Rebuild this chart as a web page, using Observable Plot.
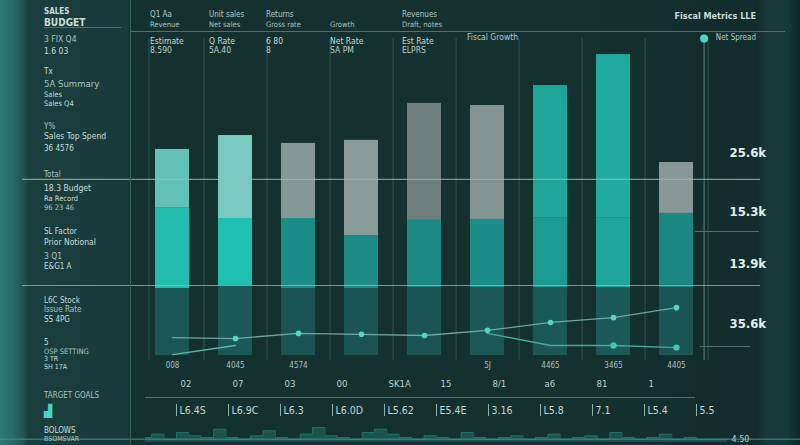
<!DOCTYPE html>
<html>
<head>
<meta charset="utf-8">
<script src="https://cdn.jsdelivr.net/npm/d3@7"></script>
<script src="https://cdn.jsdelivr.net/npm/@observablehq/plot@0.6"></script>
<style>
  html, body { margin: 0; padding: 0; width: 800px; height: 445px; overflow: hidden; background: #14302f; }
  #wrap {
    position: relative; width: 800px; height: 445px; overflow: hidden;
    background: linear-gradient(90deg, #2e7872 0px, #2a6d68 12px, #21524f 24px, #1a3e3e 28px, #193a3a 128px, #15312f 131px, #14302f 600px, #132c2d 756px, #183a3a 768px, #17393a 788px, #0f2526 800px);
    font-family: "DejaVu Sans Condensed", "Liberation Sans Narrow", "DejaVu Sans", sans-serif;
  }
  #wrap > svg, .layer { position: absolute; left: 0; top: 0; }
  .t { position: absolute; white-space: nowrap; color: #c9dcd8; line-height: 1; }
  .hl { position: absolute; height: 0; border-top: 1px solid #4d716e; }
  .vl { position: absolute; width: 0; border-left: 1px solid #3b605e; }
</style>
</head>
<body>
<div id="wrap"></div>
<script>
// ---------------- data ----------------
const categories = ["Jan", "Feb", "Mar", "Apr", "May", "Jun", "Jul", "Aug", "Sep"];
const baseSeries = [22.1, 23.1, 22.1, 22.1, 22.4, 22.4, 22.4, 22.4, 22.4];
const midSeries  = [26.7, 22.1, 23.1, 17.5, 22.2, 22.5, 23.1, 23.1, 24.5];
const topSeries  = [19.2, 27.4, 24.8, 31.4, 38.6, 37.6, 43.6, 53.8, 16.8];
const trendSeries      = [5.9, 5.6, 7.3, 7.0, 6.6, 8.3, 10.9, 12.5, 15.8];
const lowerTrendSeries = [null, null, null, null, null, 7.3, 3.3, 3.3, 2.6];
const startSeries      = [0.3, 3.3, null, null, null, null, null, null, null];
const gridValues = [58.1, 23.1];
const rightTickValues = [67, 47.5, 30.4, 10.6];
const rightTickLabels = ["25.6k", "15.3k", "13.9k", "35.6k"];
const countLabels = ["008", "4045", "4574", "", "", "5J", "4465", "3465", "4405"];
const stepLabels  = ["02", "07", "03", "00", "SK1A", "15", "8/1", "a6", "81", "1"];
const rangeLabels = ["L6.4S", "L6.9C", "L6.3", "L6.0D", "L5.62", "E5.4E", "3.16", "L5.8", "7.1", "L5.4", "5.5"];
const waveValues = [3, 5, 2, 6, 4, 3, 8, 3, 2, 4, 7, 3, 2, 5, 9, 4, 3, 2, 6, 8, 5, 3, 2, 4, 3, 2, 6, 3, 2, 3, 4, 2, 3, 5, 2, 3, 4, 2, 6, 3, 2, 3, 5, 2, 3, 2, 2, 2];
const waveEndLabel = "4.50";

const sidebarLines = ["SALES", "BUDGET", "3 FIX Q4", "1.6  03", "Tx", "5A  Summary", "Sales", "Sales  Q4", "Y%", "Sales Top Spend", "36  4576",
  "Total", "18.3  Budget", "Ra  Record", "96  23  46", "SL  Factor", "Prior Notional", "3  Q1", "E&G1  A",
  "L6C  Stock", "Issue Rate", "SS  4PG", "5", "OSP SETTING", "3  TR", "SH  17A", "TARGET GOALS", "▟", "BOLOWS", "BSOMSVAR"];
const headerLines = [
  ["Q1  Aa", "Revenue"], ["Unit sales", "Net sales"], ["Returns", "Gross rate"], ["", "Growth"], ["Revenues", "Draft, notes"]
];
const headerSubLines = [
  ["Estimate", "8.590"], ["Q Rate", "5A.40"], ["6  80", "8"], ["Net Rate", "SA PM"], ["Est Rate", "ELPRS"]
];
const headerRight = "Fiscal Metrics LLE";
const subRightA = "Fiscal Growth";
const subRightB = "Net Spread";

// ---------------- styles (not data) ----------------
const FONT = '"DejaVu Sans Condensed", "Liberation Sans Narrow", "DejaVu Sans", sans-serif';
const palette = {
  base: ["#1a5654", "#1b5957", "#1a5452", "#1a5553", "#1a5553", "#1b5755", "#1a5856", "#1b5a57", "#1a5553"],
  mid:  ["#23bcad", "#1fc0b1", "#1c8c86", "#1e8b85", "#1b8982", "#1c8d86", "#1b9a90", "#1fa69b", "#1c8781"],
  top:  ["#62c0b7", "#78c8bf", "#849896", "#8a9c99", "#6e7e7c", "#829391", "#1fa598", "#21aa9e", "#899896"]
};
const half = 31.6;

// ---------------- main chart ----------------
const segments = [["base", baseSeries], ["mid", midSeries], ["top", topSeries]];
const barRows = segments.flatMap(([segment, vals]) =>
  vals.map((value, index) => ({category: categories[index], segment, value, index})));
const seriesRows = s => s.map((v, i) => ({category: categories[i], value: v})).filter(d => d.value != null);
const trendRows = seriesRows(trendSeries);
const lowerRows = seriesRows(lowerTrendSeries);
const startRows = seriesRows(startSeries);
const countRows = countLabels.map((label, i) => ({category: categories[i], label}));

const chart = Plot.plot({
  width: 800, height: 445,
  marginLeft: 22, marginRight: 40, marginTop: 38, marginBottom: 85,
  style: {background: "transparent", fontFamily: FONT, color: "#cfe0dc", overflow: "visible"},
  x: {type: "band", domain: categories, range: [139.4, 708.6], paddingInner: 0.4625, paddingOuter: 0.23125, axis: null},
  y: {domain: [0, 100], range: [355, 52], axis: null},
  color: {type: "identity"},
  marks: [
    Plot.ruleX(categories, {x: d => d, dx: half, stroke: "#2f5250", strokeWidth: 1}),
    Plot.ruleX(categories.slice(0, 1), {x: d => d, dx: -half + 8, stroke: "#2f5250", strokeWidth: 1}),
    Plot.ruleX(categories.slice(-1), {x: d => d, dx: half - 4, stroke: "#4f7572", strokeWidth: 1.2}),
    Plot.barY(barRows, {x: "category", y: "value", fill: d => palette[d.segment][d.index]}),
    Plot.ruleY(gridValues, {stroke: "#a2b8b4", strokeOpacity: 0.75, strokeWidth: 1.2}),
    Plot.line(startRows, {x: "category", y: "value", stroke: "#5cb8ad", strokeWidth: 1.3}),
    Plot.line(trendRows, {x: "category", y: "value", stroke: "#7fb9b1", strokeOpacity: 0.85, strokeWidth: 1.3}),
    Plot.line(lowerRows, {x: "category", y: "value", stroke: "#49a89c", strokeWidth: 1.4}),
    Plot.dot(trendRows.slice(1), {x: "category", y: "value", r: 2.8, fill: "#52d6c6"}),
    Plot.dot(lowerRows.slice(2), {x: "category", y: "value", r: 3.2, fill: "#3cc9b9"}),
    Plot.dot(categories.slice(-1), {x: d => d, dx: half - 4, frameAnchor: "top", r: 4, fill: "#4fd8c8"}),
    Plot.text(countRows, {x: "category", y: () => 0, text: "label", dy: 10, fontSize: 8, fill: "#a7c2bd"}),
    Plot.axisY({anchor: "right", ticks: rightTickValues, tickSize: 0, label: null,
      tickFormat: d => rightTickLabels[rightTickValues.indexOf(d)],
      dx: -40, fontSize: 13, fontWeight: "bold", fill: "#e4eeeb"})
  ]
});
const wrap = document.getElementById("wrap");
wrap.appendChild(chart);

// ---------------- bottom label strip ----------------
const stripY = {type: "band", domain: ["steps", "ranges"], range: [0, 46], paddingInner: 0.55, paddingOuter: 0.1};
const stepRows = stepLabels.map((label, i) => ({slot: i, row: "steps", label}));
const rangeRows = rangeLabels.map((label, i) => ({slot: i, row: "ranges", label}));
const strip = Plot.plot({
  width: 800, height: 46, margin: 0,
  style: {background: "transparent", fontFamily: FONT, overflow: "visible"},
  x: {type: "point", domain: d3.range(rangeLabels.length), range: [150, 725], axis: null},
  y: {...stripY, axis: null},
  marks: [
    Plot.text(stepRows, {x: "slot", y: "row", text: "label", textAnchor: "start", dx: 2, fontSize: 9.5, fill: "#b9d0cc"}),
    Plot.tickX(rangeRows, {x: "slot", y: "row", stroke: "#8fb0ab", strokeWidth: 1, dx: -2}),
    Plot.text(rangeRows, {x: "slot", y: "row", text: "label", textAnchor: "start", dx: 1, fontSize: 10.5, fill: "#c3d7d3"})
  ]
});
strip.classList.add("layer");
{
  const b = Plot.scale({y: stripY});
  strip.style.top = (383 - (b.apply("steps") + b.bandwidth / 2)) + "px";
}
wrap.appendChild(strip);

// ---------------- waveform strip ----------------
const waveRows = waveValues.map((v, i) => ({i, v}));
const wave = Plot.plot({
  width: 800, height: 24, margin: 0,
  style: {background: "transparent", fontFamily: FONT, overflow: "visible"},
  x: {domain: [0, waveValues.length - 1], range: [145, 727], axis: null},
  y: {domain: [0, 12], range: [20, 0], axis: null},
  marks: [
    Plot.areaY(waveRows, {x: "i", y: "v", fill: "#1f6b65", fillOpacity: 0.6, curve: "step"}),
    Plot.lineY(waveRows, {x: "i", y: "v", stroke: "#2f9b8f", strokeOpacity: 0.55, strokeWidth: 0.8, curve: "step"}),
    Plot.ruleY([2], {stroke: "#3c9990", strokeWidth: 1}),
    Plot.text([waveEndLabel], {x: () => waveValues.length - 1, y: () => 2, text: d => d, textAnchor: "start", dx: 4, fontSize: 9, fill: "#b9d0cc"})
  ]
});
wave.style.top = "422px";
wave.classList.add("layer");
wrap.appendChild(wave);

// ---------------- sidebar / header overlays ----------------
function addText(text, left, top, size, opts = {}) {
  const d = document.createElement("div");
  d.className = "t";
  d.textContent = text;
  d.style.left = left + "px";
  d.style.top = (top - size * 0.55) + "px";
  d.style.fontSize = size + "px";
  if (opts.weight) d.style.fontWeight = opts.weight;
  if (opts.color) d.style.color = opts.color;
  if (opts.anchor === "end") { d.style.left = "auto"; d.style.right = (800 - left) + "px"; }
  wrap.appendChild(d);
}
function addLine(cls, left, top, len) {
  const d = document.createElement("div");
  d.className = cls;
  d.style.left = left + "px";
  d.style.top = top + "px";
  if (cls === "hl") d.style.width = len + "px"; else d.style.height = len + "px";
  wrap.appendChild(d);
}

const sidebarTops  = [12, 23, 40, 52, 72, 84, 95, 104, 127, 137, 149, 175, 189, 199, 208, 232, 243, 257, 267, 301, 310, 320, 343, 352, 360, 368, 396, 412, 431, 440];
const sidebarSizes = [8, 10, 8.5, 8.5, 8, 9.5, 7.5, 7.5, 8, 8.5, 8, 8, 8.5, 7.5, 7.5, 8, 8.5, 8.5, 8, 8, 8, 8, 8, 7.5, 7, 7, 8, 12, 8, 7];
sidebarLines.forEach((s, i) => addText(s, 44, sidebarTops[i], sidebarSizes[i], {
  weight: (i === 0 || i === 1) ? "bold" : null,
  color: i === 27 ? "#47d3c3" : (i % 3 === 2 ? "#aac4bf" : "#c9dcd8")
}));

const headerLefts = [150, 209, 266, 330, 402];
headerLines.forEach(([a, b], i) => {
  if (a) addText(a, headerLefts[i], 15, 8, {color: "#b3cbc6"});
  addText(b, headerLefts[i], 25, 7.5, {color: "#a7c2bd"});
});
headerSubLines.forEach(([a, b], i) => {
  addText(a, headerLefts[i], 42, 8.5, {color: "#c5d9d5"});
  addText(b, headerLefts[i], 51, 8.5, {color: "#b9d0cc"});
});
addText(headerRight, 756, 17, 9, {anchor: "end", color: "#c9dcd8", weight: "bold"});
addText(subRightA, 467, 38, 8.5, {color: "#b3cbc6"});
addText(subRightB, 756, 38, 8, {anchor: "end", color: "#b3cbc6"});

addLine("hl", 130, 31, 655);
addLine("hl", 44, 27, 77);
addLine("hl", 145, 397, 550);
addLine("hl", 695, 231, 64);
addLine("hl", 700, 346, 50);
addLine("vl", 130, 0, 445);
</script>
</body>
</html>
